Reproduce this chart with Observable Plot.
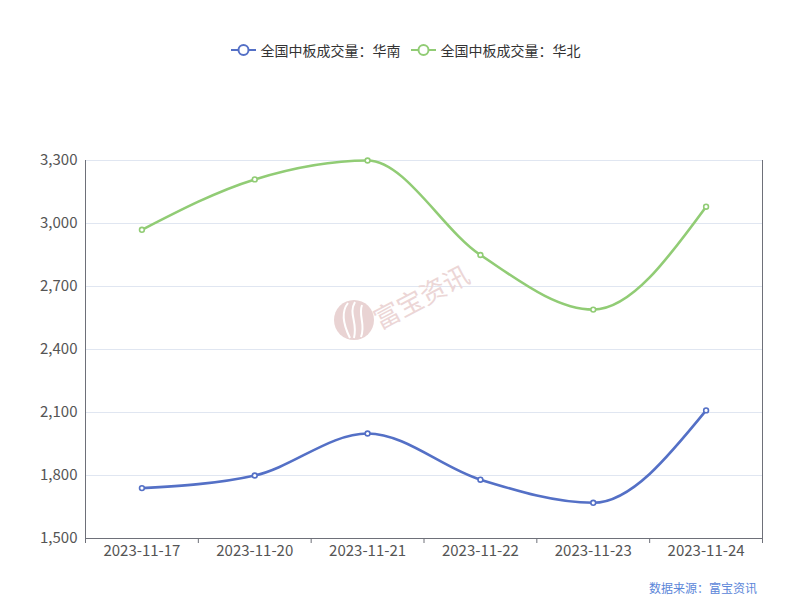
<!DOCTYPE html>
<html><head><meta charset="utf-8">
<script src="https://cdn.jsdelivr.net/npm/d3@7"></script>
<script src="https://cdn.jsdelivr.net/npm/@observablehq/plot@0.6"></script>
<style>
body{margin:0;background:#fff;font-family:"Noto Sans CJK SC","Noto Sans",sans-serif;}
#wrap{position:relative;width:811px;height:600px;}
#legend{height:100px;display:flex;justify-content:center;align-items:flex-start;gap:10px;font-size:14px;color:#333;}
#legend .item{display:flex;align-items:center;margin-top:40px;}
#legend svg{margin-right:5px;}
#caption{position:absolute;left:649px;top:579px;font-size:12px;color:#5b86d9;}
#wm{position:absolute;left:334px;top:256px;pointer-events:none;}
</style></head>
<body><div id="wrap">
<div id="legend"></div>
<div id="chart"></div>
<div id="wm"></div>
<div id="caption">数据来源：富宝资讯</div>
</div>
<script>
const dates = ["2023-11-17","2023-11-20","2023-11-21","2023-11-22","2023-11-23","2023-11-24"];
const southValues = [1740, 1800, 2000, 1780, 1670, 2110];
const northValues = [2970, 3210, 3300, 2850, 2590, 3080];
const seriesNames = ["全国中板成交量：华南", "全国中板成交量：华北"];
const seriesColors = ["#5470c6", "#91cc75"];
const yTicks = [1500, 1800, 2100, 2400, 2700, 3000, 3300];

const data = [];
dates.forEach((d, i) => {
  data.push({date: d, value: southValues[i], series: seriesNames[0]});
  data.push({date: d, value: northValues[i], series: seriesNames[1]});
});

const W = 811, H = 470, ML = 85, MR = 49, MT = 60, MB = 32;
const step = (W - ML - MR) / dates.length;
const axisColor = "#6e7079";

const chart = Plot.plot({
  width: W, height: H,
  marginLeft: ML, marginRight: MR, marginTop: MT, marginBottom: MB,
  style: {fontFamily: '"Noto Sans CJK SC","Noto Sans",sans-serif', fontSize: "15px", color: "#555", background: "#fff"},
  x: {type: "point", domain: dates, padding: 0.5, round: false, label: null},
  y: {domain: [1500, 3300], label: null},
  color: {domain: seriesNames, range: seriesColors},
  marks: [
    Plot.gridY(yTicks, {stroke: "#e0e6f1", strokeOpacity: 1}),
    Plot.axisY(yTicks, {tickSize: 0, tickPadding: 8, tickFormat: d3.format(","), fill: "#555", fontSize: 15, label: null}),
    Plot.frame({anchor: "left", stroke: axisColor}),
    Plot.frame({anchor: "right", stroke: axisColor}),
    Plot.ruleY([1500], {stroke: axisColor}),
    Plot.axisX(dates, {tickSize: 5, dx: -step / 2, tickFormat: () => "", stroke: axisColor, label: null}),
    Plot.axisX([dates[dates.length - 1]], {tickSize: 5, dx: step / 2, tickFormat: () => "", stroke: axisColor, label: null}),
    Plot.axisX(dates, {tickSize: 0, tickPadding: 7, fill: "#555", fontSize: 15, label: null}),
    Plot.line(data, {x: "date", y: "value", z: "series", stroke: "series", strokeWidth: 2.6, curve: "monotone-x"}),
    Plot.dot(data, {x: "date", y: "value", stroke: "series", fill: "#fff", r: 2.4, strokeWidth: 1.6})
  ]
});
document.getElementById("chart").appendChild(chart);

// legend
const legend = document.getElementById("legend");
seriesNames.forEach((name, i) => {
  const item = document.createElement("div");
  item.className = "item";
  item.innerHTML = `<svg width="25" height="14"><line x1="0" y1="7" x2="25" y2="7" stroke="${seriesColors[i]}" stroke-width="2"/><circle cx="12.5" cy="7" r="5" fill="#fff" stroke="${seriesColors[i]}" stroke-width="2"/></svg><span>${name}</span>`;
  legend.appendChild(item);
});

// watermark
document.getElementById("wm").innerHTML = `<svg width="170" height="90" style="overflow:visible">
  <circle cx="20" cy="64" r="20" fill="#e9d3d3"/>
  <path d="M14 47 C6 57 10 70 16 82" stroke="#fff" stroke-width="2" fill="none"/>
  <path d="M21 46 C14 58 24 66 20 82" stroke="#fff" stroke-width="2" fill="none"/>
  <path d="M28 49 C24 60 32 68 27 81" stroke="#fff" stroke-width="2" fill="none"/>
  <text x="46" y="74" transform="rotate(-28 46 74)" font-size="26" fill="#ecd6d6" font-family="Noto Sans CJK SC">富宝资讯</text>
</svg>`;
</script>
</body></html>
